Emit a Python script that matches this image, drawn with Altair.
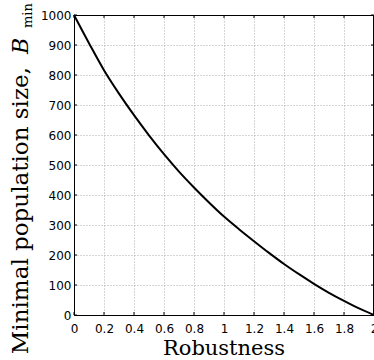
import altair as alt
import pandas as pd

# Data
robustness = [0.0, 0.1, 0.2, 0.3, 0.4, 0.5, 0.6, 0.7, 0.8, 0.9, 1.0,
              1.1, 1.2, 1.3, 1.4, 1.5, 1.6, 1.7, 1.8, 1.9, 2.0]
b_min = [1000, 906, 816, 738, 666, 599, 536, 478, 425, 375, 328,
         286, 246, 207, 170, 136, 104, 74, 47, 22, 0]

x_ticks = [0, 0.2, 0.4, 0.6, 0.8, 1.0, 1.2, 1.4, 1.6, 1.8, 2.0]
y_ticks = [0, 100, 200, 300, 400, 500, 600, 700, 800, 900, 1000]

x_title = ["Robustness"]
y_title_main = ["Minimal population size,"]
y_title_sym = ["B"]
y_title_sub = ["min"]

W, H = 300, 300

df = pd.DataFrame({"r": robustness, "b": b_min})
xt = pd.DataFrame({"r": x_ticks})
yt = pd.DataFrame({"b": y_ticks})

xscale = alt.Scale(domain=[0, 2], nice=False, zero=False)
yscale = alt.Scale(domain=[0, 1000], nice=False)

x_axis = alt.Axis(
    values=x_ticks, format="~g", title=None, grid=True, ticks=False,
    labelPadding=8, labelFlush=False, labelFont="DejaVu Sans", labelFontSize=12,
    labelColor="black", domainColor="black", gridColor="#ababab", gridDash=[1, 2],
    gridWidth=1, labelOverlap=False)
y_axis = alt.Axis(
    values=y_ticks, format="d", title=None, grid=True, ticks=False,
    labelPadding=3, labelFlush=False, labelFont="DejaVu Sans", labelFontSize=12,
    labelColor="black", domainColor="black", gridColor="#ababab", gridDash=[1, 2],
    gridWidth=1, labelOverlap=False)

line = alt.Chart(df).mark_line(color="black", strokeWidth=2, interpolate="monotone").encode(
    x=alt.X("r:Q", scale=xscale, axis=x_axis),
    y=alt.Y("b:Q", scale=yscale, axis=y_axis),
)

tick_bottom = alt.Chart(xt).mark_rule(color="black", strokeWidth=1).encode(
    x=alt.X("r:Q", scale=xscale, axis=x_axis), y=alt.value(H), y2=alt.value(H - 3))
tick_top = alt.Chart(xt).mark_rule(color="black", strokeWidth=1).encode(
    x=alt.X("r:Q", scale=xscale, axis=x_axis), y=alt.value(0), y2=alt.value(3))
tick_left = alt.Chart(yt).mark_rule(color="black", strokeWidth=1).encode(
    y=alt.Y("b:Q", scale=yscale, axis=y_axis), x=alt.value(0), x2=alt.value(3))
tick_right = alt.Chart(yt).mark_rule(color="black", strokeWidth=1).encode(
    y=alt.Y("b:Q", scale=yscale, axis=y_axis), x=alt.value(W), x2=alt.value(W - 3))

# box frame (top and right edges)
frame_top = alt.Chart(pd.DataFrame({"k": [0]})).mark_rule(color="black", strokeWidth=1).encode(
    x=alt.value(0), x2=alt.value(W), y=alt.value(0.5))
frame_right = alt.Chart(pd.DataFrame({"k": [0]})).mark_rule(color="black", strokeWidth=1).encode(
    x=alt.value(W - 0.5), y=alt.value(0), y2=alt.value(H))

xtitle = alt.Chart(pd.DataFrame({"t": x_title})).mark_text(
    font="DejaVu Serif", fontSize=21, color="black", align="center", baseline="alphabetic"
).encode(text="t:N", x=alt.value(W / 2), y=alt.value(340))

ytitle_main = alt.Chart(pd.DataFrame({"t": y_title_main})).mark_text(
    font="DejaVu Serif", fontSize=23, color="black", align="right", baseline="alphabetic", angle=270
).encode(text="t:N", x=alt.value(-45.7), y=alt.value(52))

ytitle_sym = alt.Chart(pd.DataFrame({"t": y_title_sym})).mark_text(
    font="DejaVu Serif", fontSize=22, fontStyle="italic", color="black", align="left",
    baseline="alphabetic", angle=270
).encode(text="t:N", x=alt.value(-45.7), y=alt.value(39))

ytitle_sub = alt.Chart(pd.DataFrame({"t": y_title_sub})).mark_text(
    font="DejaVu Serif", fontSize=13, color="black", align="left",
    baseline="alphabetic", angle=270
).encode(text="t:N", x=alt.value(-42.3), y=alt.value(13))

chart = alt.layer(
    line, tick_bottom, tick_top, tick_left, tick_right, frame_top, frame_right,
    xtitle, ytitle_main, ytitle_sym, ytitle_sub
).properties(
    width=W, height=H,
    autosize=alt.AutoSizeParams(type="none"),
    padding={"left": 74, "top": 15, "right": 0, "bottom": 45},
    background="white",
).configure_view(stroke="black", strokeWidth=1)

chart.save("out.html", embed_options={"renderer": "svg", "actions": False})
